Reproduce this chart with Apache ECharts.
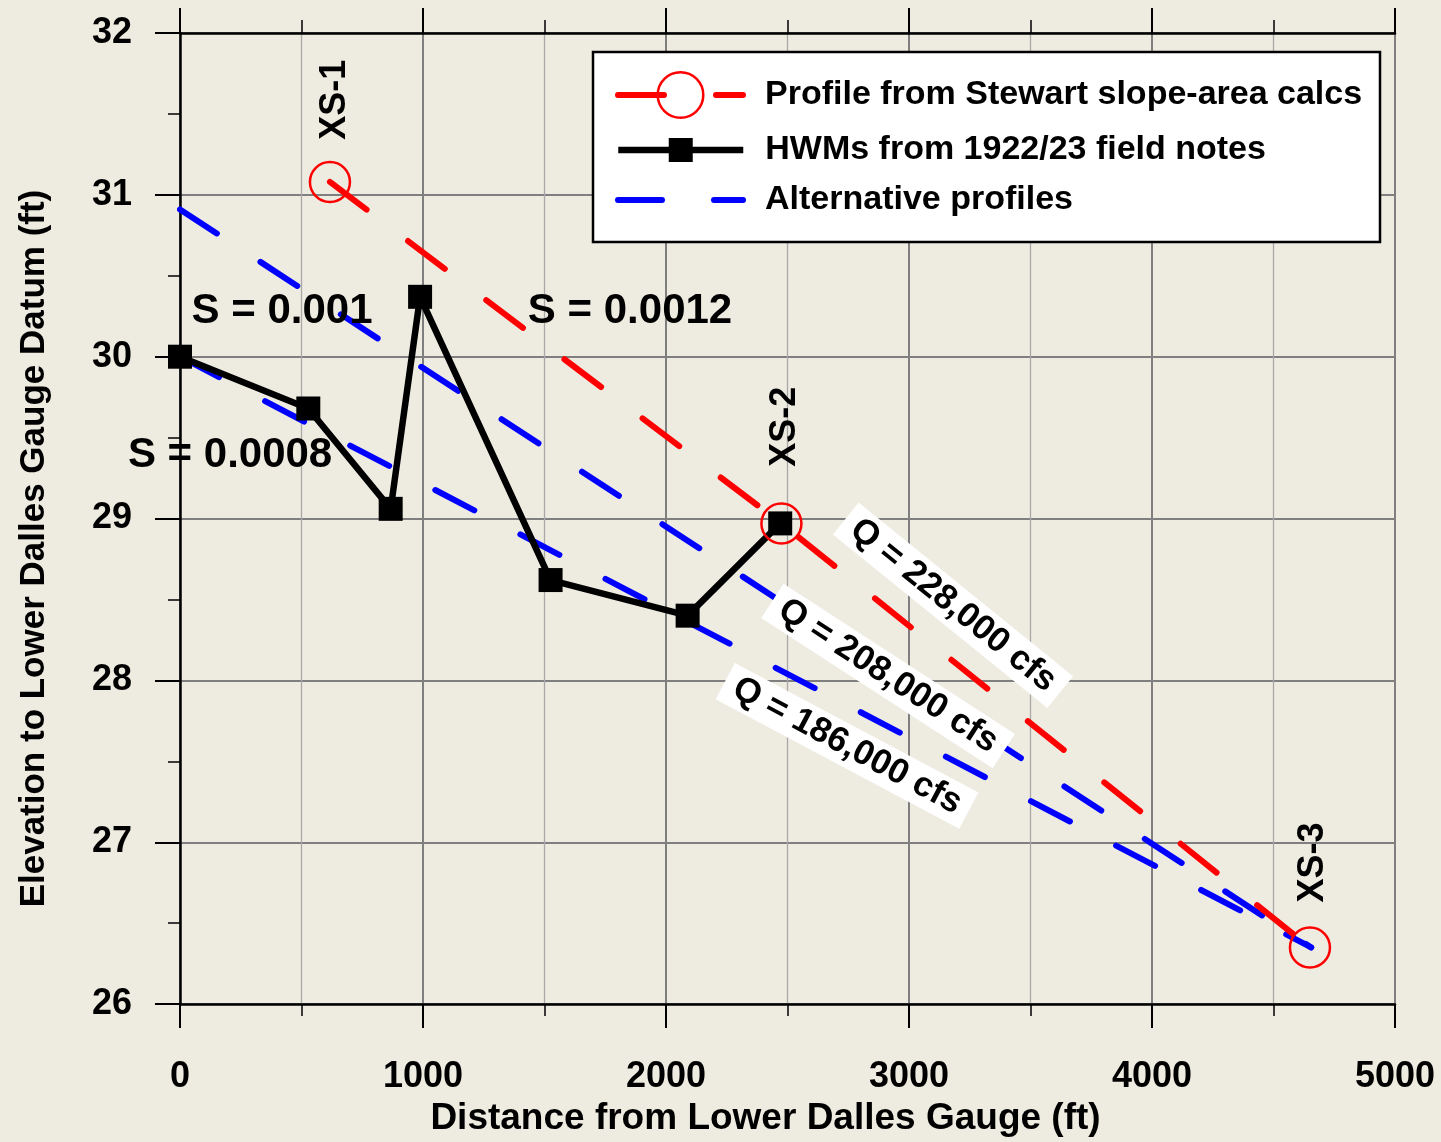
<!DOCTYPE html>
<html><head><meta charset="utf-8">
<script src="https://cdn.jsdelivr.net/npm/echarts@6/dist/echarts.min.js"></script>
<style>html,body{margin:0;padding:0;background:#EEEBE1;}#c{width:1441px;height:1142px;}</style>
</head><body><div id="c"></div>
<script>
// ---- data ----
const hwmX = [0, 528, 867, 988, 1525, 2089, 2470];
const hwmY = [30.0, 29.68, 29.06, 30.37, 28.62, 28.40, 28.97];
const stewartX = [617, 2475, 4650];
const stewartY = [31.08, 28.97, 26.35];
const altS001X = [0, 4655];
const altS001Y = [30.91, 26.35];
const altS0008X = [0, 4655];
const altS0008Y = [30.0, 26.35];
const xTickLabels = ['0', '1000', '2000', '3000', '4000', '5000'];
const yTickLabels = ['26', '27', '28', '29', '30', '31', '32'];
const seriesNames = ['Profile from Stewart slope-area calcs', 'HWMs from 1922/23 field notes', 'Alternative profiles'];
// annotations: text, x, y (data coords), rotation
const annoText = ['XS-1', 'XS-2', 'XS-3', 'S = 0.001', 'S = 0.0012', 'S = 0.0008', 'Q = 228,000 cfs', 'Q = 208,000 cfs', 'Q = 186,000 cfs'];
const annoX = [638, 2490, 4663, 420, 1852, 206, 3181, 2914, 2745];
const annoY = [31.587, 29.567, 26.875, 30.281, 30.281, 29.388, 28.464, 28.027, 27.595];
const annoRot = [90, 90, 90, 0, 0, 0, -39, -33, -28];

// ---- build ----
const FONT = '"Liberation Sans", Arial, sans-serif';
const zip = (a, b) => a.map((v, i) => [v, b[i]]);
const xMin = +xTickLabels[0], xMax = +xTickLabels[xTickLabels.length - 1], xStep = xTickLabels[1] - xTickLabels[0];
const yMin = +yTickLabels[0], yMax = +yTickLabels[yTickLabels.length - 1], yStep = yTickLabels[1] - yTickLabels[0];

const annoData = annoText.map((t, i) => {
  const isQ = t.startsWith('Q');
  const isS = t.startsWith('S');
  return {
    value: [annoX[i], annoY[i]],
    label: {
      show: true, position: 'inside', formatter: t, rotate: annoRot[i],
      fontFamily: FONT, fontWeight: 'bold', color: '#000', opacity: 1,
      fontSize: isQ ? 35 : (isS ? 42 : 36),
      backgroundColor: isQ ? '#ffffff' : 'transparent',
      padding: isQ ? [3, 11, 3, 11] : 0
    }
  };
});

const axisTxt = { fontFamily: FONT, fontWeight: 'bold', color: '#000', fontSize: 36 };
const fmtTick = (labels) => (v) => { const s = String(Math.round(v)); return labels.indexOf(s) >= 0 ? s : ''; };

const chart = echarts.init(document.getElementById('c'), null, { renderer: 'canvas' });
chart.setOption({
  animation: false,
  backgroundColor: '#EEEBE1',
  grid: { left: 180, right: 46, top: 33, bottom: 135, containLabel: false },
  xAxis: [{
    type: 'value', min: xMin, max: xMax, interval: xStep, position: 'bottom',
    axisLine: { show: true, onZero: false, lineStyle: { color: '#000', width: 2.5 } },
    axisTick: { show: true, length: 24, lineStyle: { color: '#000', width: 2 } },
    minorTick: { show: true, splitNumber: 2, length: 12, lineStyle: { color: '#000', width: 1.5 } },
    axisLabel: Object.assign({ margin: 55, formatter: fmtTick(xTickLabels) }, axisTxt),
    splitLine: { show: true, lineStyle: { color: '#7f7f7f', width: 2 } },
    minorSplitLine: { show: true, lineStyle: { color: '#a8a8a8', width: 1.3 } },
    name: 'Distance from Lower Dalles Gauge (ft)', nameLocation: 'middle', nameGap: 92,
    nameTextStyle: Object.assign({ padding: [0, 44, 0, 0] }, axisTxt, { fontSize: 37 })
  }, {
    type: 'value', min: xMin, max: xMax, interval: xStep, position: 'top',
    axisLine: { show: true, onZero: false, lineStyle: { color: '#000', width: 2.5 } },
    axisTick: { show: true, length: 25, lineStyle: { color: '#000', width: 2 } },
    minorTick: { show: true, splitNumber: 2, length: 13, lineStyle: { color: '#000', width: 1.5 } },
    axisLabel: { show: false }, splitLine: { show: false }
  }],
  yAxis: {
    type: 'value', min: yMin, max: yMax, interval: yStep,
    axisLine: { show: true, onZero: false, lineStyle: { color: '#000', width: 2.5 } },
    axisTick: { show: true, length: 25, lineStyle: { color: '#000', width: 2 } },
    minorTick: { show: true, splitNumber: 2, length: 12, lineStyle: { color: '#000', width: 1.5 } },
    axisLabel: Object.assign({ margin: 48, formatter: fmtTick(yTickLabels) }, axisTxt),
    splitLine: { show: true, lineStyle: { color: '#7f7f7f', width: 2 } },
    name: 'Elevation to Lower Dalles Gauge Datum (ft)', nameLocation: 'middle', nameGap: 128, nameRotate: 90,
    nameTextStyle: Object.assign({ padding: [0, 60, 0, 0] }, axisTxt, { fontSize: 35 })
  },
  legend: [
    { data: [seriesNames[0]], left: 615, top: 71, itemWidth: 125, itemHeight: 57, padding: 0, selectedMode: false,
      textStyle: { fontFamily: FONT, fontWeight: 'bold', fontSize: 34, color: '#000', padding: [0, 0, 0, 17] },
      lineStyle: { width: 6, cap: 'round' },
      itemStyle: { color: 'rgba(0,0,0,0)', borderColor: '#ff0000', borderWidth: 2.5 } },
    { data: [seriesNames[1]], left: 615, top: 133, itemWidth: 125, itemHeight: 30, padding: 0, selectedMode: false,
      textStyle: { fontFamily: FONT, fontWeight: 'bold', fontSize: 34, color: '#000', padding: [0, 0, 0, 17] },
      lineStyle: { width: 6.5 },
      itemStyle: { color: '#000', borderWidth: 0 } },
    { data: [seriesNames[2]], left: 615, top: 183, itemWidth: 125, itemHeight: 30, padding: 0, selectedMode: false,
      textStyle: { fontFamily: FONT, fontWeight: 'bold', fontSize: 34, color: '#000', padding: [0, 0, 0, 17] },
      lineStyle: { width: 6, cap: 'round' },
      itemStyle: { color: 'rgba(0,0,0,0)', borderColor: 'rgba(0,0,0,0)', borderWidth: 0, opacity: 0 } }
  ],
  graphic: [{
    type: 'rect', z: 3, shape: { x: 593, y: 52, width: 787, height: 190 },
    style: { fill: '#ffffff', stroke: '#000', lineWidth: 2.5 }
  }],
  series: [
    { name: seriesNames[2], type: 'line', data: zip(altS001X, altS001Y), symbol: 'none', z: 2,
      lineStyle: { color: '#0000ff', width: 6, type: [44, 52], cap: 'round' }, itemStyle: { color: '#0000ff' } },
    { name: seriesNames[2], type: 'line', data: zip(altS0008X, altS0008Y), symbol: 'none', z: 2,
      lineStyle: { color: '#0000ff', width: 6, type: [44, 52], cap: 'round' }, itemStyle: { color: '#0000ff' } },
    { name: seriesNames[1], type: 'line', data: zip(hwmX, hwmY), symbol: 'rect', symbolSize: 24, z: 3,
      lineStyle: { color: '#000', width: 6.5 }, itemStyle: { color: '#000' } },
    { name: seriesNames[0], type: 'line', data: zip(stewartX, stewartY), symbol: 'circle', symbolSize: 40, z: 4,
      lineStyle: { color: '#ff0000', width: 6, type: [46, 52], cap: 'round' },
      itemStyle: { color: 'rgba(0,0,0,0)', borderColor: '#ff0000', borderWidth: 2.5 } },
    { name: 'annotations', type: 'scatter', data: annoData, symbolSize: 1, z: 5, silent: true,
      itemStyle: { color: 'rgba(0,0,0,0)', opacity: 1 } }
  ]
});
</script></body></html>
